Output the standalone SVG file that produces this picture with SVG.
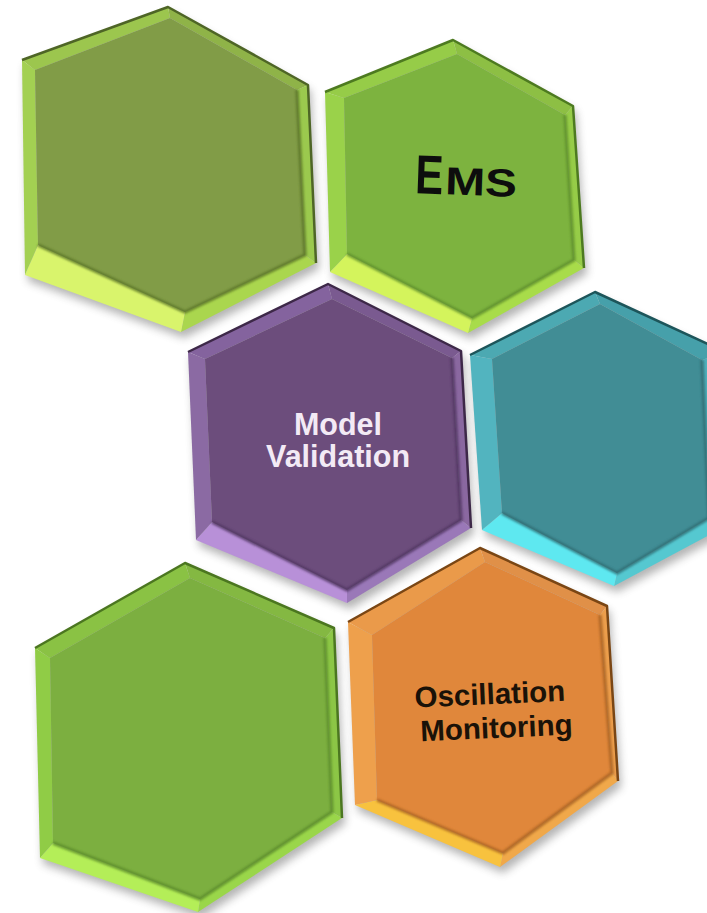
<svg xmlns="http://www.w3.org/2000/svg" width="707" height="913" viewBox="0 0 707 913">
<defs>
<filter id="blur" x="-20%" y="-20%" width="140%" height="140%"><feGaussianBlur stdDeviation="4"/></filter>
<filter id="soft" x="-10%" y="-10%" width="120%" height="120%"><feGaussianBlur stdDeviation="1"/></filter>
<style>
.shadow{fill:#5a5a5a;opacity:.45;filter:url(#blur)}
.edge{fill:none;stroke-width:2.5;stroke-linejoin:round}
.inner{fill:none;stroke-width:3.5;stroke-linejoin:round;opacity:.8;filter:url(#soft)}
.lbl{font-family:"Liberation Sans",Arial,sans-serif;font-weight:bold}
#hex1 .face{fill:#819c47}#hex1 .tl{fill:#9cc64e}#hex1 .tr{fill:#8fb348}#hex1 .r{fill:#9bc94e}#hex1 .br{fill:#aad64e}#hex1 .bl{fill:#d9f46c}#hex1 .l{fill:#a3d052}#hex1 .edge{stroke:#4e6526}#hex1 .inner{stroke:#5a7428}
#hex2 .face{fill:#7db33f}#hex2 .tl{fill:#96cc48}#hex2 .tr{fill:#8dbf44}#hex2 .r{fill:#96cc48}#hex2 .br{fill:#a8dc4a}#hex2 .bl{fill:#d4f45c}#hex2 .l{fill:#9ad24a}#hex2 .edge{stroke:#4d7a20}#hex2 .inner{stroke:#5d8e2c}
#hex3 .face{fill:#6c4d7c}#hex3 .tl{fill:#84639e}#hex3 .tr{fill:#7a5a90}#hex3 .r{fill:#8a68a0}#hex3 .br{fill:#9a78b8}#hex3 .bl{fill:#b890d8}#hex3 .l{fill:#8b6aa3}#hex3 .edge{stroke:#3d2848}#hex3 .inner{stroke:#4f3460}
#hex4 .face{fill:#418d95}#hex4 .tl{fill:#4ca9b2}#hex4 .tr{fill:#46a0aa}#hex4 .r{fill:#4fb0bb}#hex4 .br{fill:#55c8d0}#hex4 .bl{fill:#5ee8f0}#hex4 .l{fill:#52b4bf}#hex4 .edge{stroke:#1d555a}#hex4 .inner{stroke:#2f6c72}
#hex5 .face{fill:#7caf40}#hex5 .tl{fill:#8ac244}#hex5 .tr{fill:#84b842}#hex5 .r{fill:#8cc646}#hex5 .br{fill:#9ad64a}#hex5 .bl{fill:#b4ee58}#hex5 .l{fill:#90cc46}#hex5 .edge{stroke:#4b7620}#hex5 .inner{stroke:#5b8c2c}
#hex6 .face{fill:#e0873b}#hex6 .tl{fill:#ea9a4a}#hex6 .tr{fill:#e09048}#hex6 .r{fill:#ec9e4c}#hex6 .br{fill:#f0a84a}#hex6 .bl{fill:#f8c23e}#hex6 .l{fill:#eea04c}#hex6 .edge{stroke:#7a4614}#hex6 .inner{stroke:#a86224}
</style>
</defs>
<rect width="707" height="913" fill="#ffffff"/>

<g id="hex1">
<polygon class="shadow" transform="translate(3,6)" points="168,7 308,85 316,263 181,332 25,275 22,60"/>
<polygon class="tl" points="22,60 168,7 170,18 35,70"/>
<polygon class="tr" points="168,7 308,85 297,90 170,18"/>
<polygon class="r" points="308,85 316,263 305,255 297,90"/>
<polygon class="br" points="316,263 181,332 185,312 305,255"/>
<polygon class="bl" points="181,332 25,275 38,245 185,312"/>
<polygon class="l" points="25,275 22,60 35,70 38,245"/>
<polygon class="face" points="170,18 297,90 305,255 185,312 38,245 35,70"/>
<polyline class="inner" points="38,245 185,312 305,255 297,90"/>
<polyline class="edge" points="22,60 168,7 308,85 316,263"/>
</g>

<g id="hex2">
<polygon class="shadow" transform="translate(3,6)" points="453,40 573,106 584,268 468,333 330,272 325,92"/>
<polygon class="tl" points="325,92 453,40 457,54 344,98"/>
<polygon class="tr" points="453,40 573,106 565,115 457,54"/>
<polygon class="r" points="573,106 584,268 574,260 565,115"/>
<polygon class="br" points="584,268 468,333 472,318 574,260"/>
<polygon class="bl" points="468,333 330,272 347,254 472,318"/>
<polygon class="l" points="330,272 325,92 344,98 347,254"/>
<polygon class="face" points="457,54 565,115 574,260 472,318 347,254 344,98"/>
<polyline class="inner" points="347,254 472,318 574,260 565,115"/>
<polyline class="edge" points="325,92 453,40 573,106 584,268"/>
<g transform="rotate(2 465 185)">
<text class="lbl" x="415" y="195" font-size="55" textLength="28" lengthAdjust="spacingAndGlyphs" fill="#0d0d0d">E</text>
<text class="lbl" x="445" y="195" font-size="39" textLength="72" lengthAdjust="spacingAndGlyphs" fill="#0d0d0d">MS</text>
</g>
</g>

<g id="hex3">
<polygon class="shadow" transform="translate(3,6)" points="328,284 461,351 471,528 347,603 196,540 188,352"/>
<polygon class="tl" points="188,352 328,284 332,299 205,359"/>
<polygon class="tr" points="328,284 461,351 452,358 332,299"/>
<polygon class="r" points="461,351 471,528 461,520 452,358"/>
<polygon class="br" points="471,528 347,603 347,590 461,520"/>
<polygon class="bl" points="347,603 196,540 212,522 347,590"/>
<polygon class="l" points="196,540 188,352 205,359 212,522"/>
<polygon class="face" points="332,299 452,358 461,520 347,590 212,522 205,359"/>
<polyline class="inner" points="212,522 347,590 461,520 452,358"/>
<polyline class="edge" points="188,352 328,284 461,351 471,528"/>
<text class="lbl" x="338" y="435" font-size="30.5" text-anchor="middle" fill="#f3eaf5">Model</text>
<text class="lbl" x="338" y="467" font-size="30.5" text-anchor="middle" fill="#f3eaf5">Validation</text>
</g>

<g id="hex4">
<polygon class="shadow" transform="translate(3,6)" points="595,292 725,352 728,525 614,586 482,530 470,355"/>
<polygon class="tl" points="470,355 595,292 600,304 492,359"/>
<polygon class="tr" points="595,292 725,352 702,360 600,304"/>
<polygon class="r" points="725,352 728,525 709,518 702,360"/>
<polygon class="br" points="728,525 614,586 617,573 709,518"/>
<polygon class="bl" points="614,586 482,530 502,513 617,573"/>
<polygon class="l" points="482,530 470,355 492,359 502,513"/>
<polygon class="face" points="600,304 702,360 709,518 617,573 502,513 492,359"/>
<polyline class="inner" points="502,513 617,573 709,518 702,360"/>
<polyline class="edge" points="470,355 595,292 725,352 728,525"/>
</g>

<g id="hex5">
<polygon class="shadow" transform="translate(3,6)" points="185,563 334,628 342,818 198,912 40,858 35,648"/>
<polygon class="tl" points="35,648 185,563 190,578 50,658"/>
<polygon class="tr" points="185,563 334,628 325,638 190,578"/>
<polygon class="r" points="334,628 342,818 332,812 325,638"/>
<polygon class="br" points="342,818 198,912 200,899 332,812"/>
<polygon class="bl" points="198,912 40,858 53,843 200,899"/>
<polygon class="l" points="40,858 35,648 50,658 53,843"/>
<polygon class="face" points="190,578 325,638 332,812 200,899 53,843 50,658"/>
<polyline class="inner" points="53,843 200,899 332,812 325,638"/>
<polyline class="edge" points="35,648 185,563 334,628 342,818"/>
</g>

<g id="hex6">
<polygon class="shadow" transform="translate(3,6)" points="480,548 607,606 618,781 500,867 355,805 348,622"/>
<polygon class="tl" points="348,622 480,548 485,562 372,635"/>
<polygon class="tr" points="480,548 607,606 600,615 485,562"/>
<polygon class="r" points="607,606 618,781 612,773 600,615"/>
<polygon class="br" points="618,781 500,867 503,853 612,773"/>
<polygon class="bl" points="500,867 355,805 377,800 503,853"/>
<polygon class="l" points="355,805 348,622 372,635 377,800"/>
<polygon class="face" points="485,562 600,615 612,773 503,853 377,800 372,635"/>
<polyline class="inner" points="377,800 503,853 612,773 600,615"/>
<polyline class="edge" points="348,622 480,548 607,606 618,781"/>
<g transform="rotate(-2.5 493 720)">
<text class="lbl" x="491" y="704" font-size="29.5" text-anchor="middle" fill="#1a1208">Oscillation</text>
<text class="lbl" x="496" y="738" font-size="29.5" text-anchor="middle" fill="#1a1208">Monitoring</text>
</g>
</g>
</svg>
